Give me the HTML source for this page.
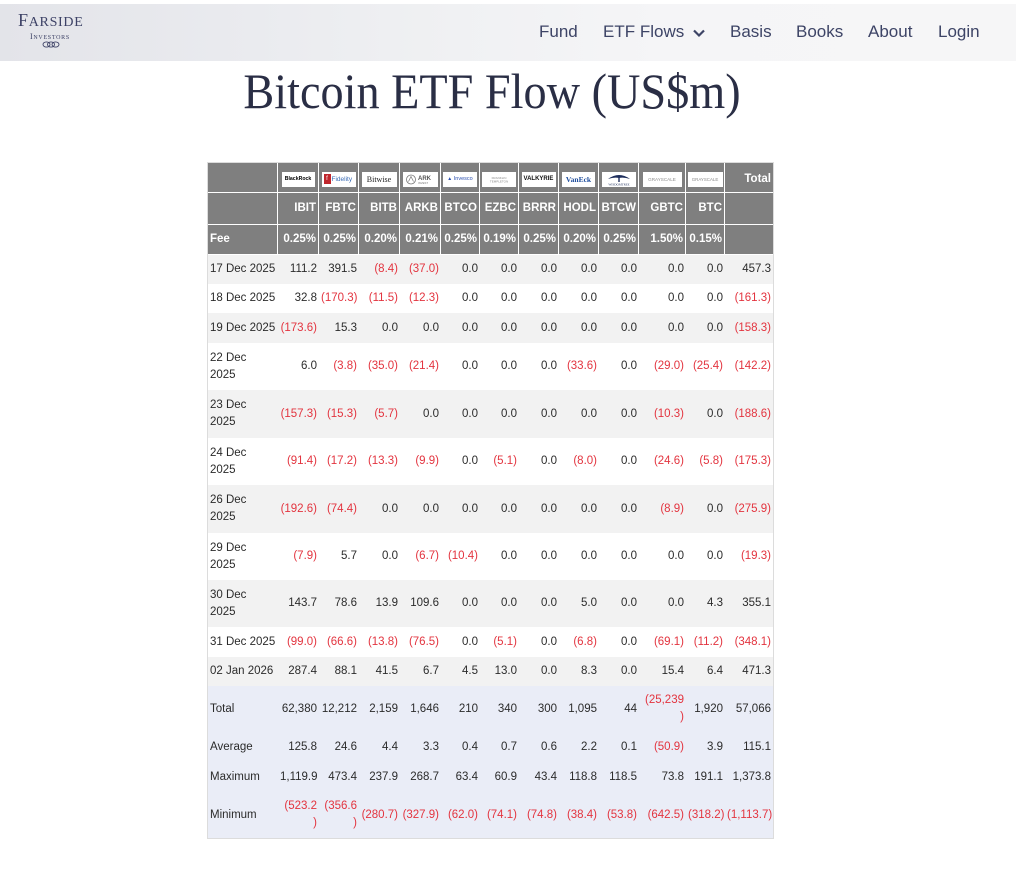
<!DOCTYPE html>
<html>
<head>
<meta charset="utf-8">
<style>
html,body{margin:0;padding:0;background:#fff;}
body{width:1016px;height:888px;position:relative;overflow:hidden;font-family:"Liberation Sans",Arial,sans-serif;}
.nav{position:absolute;left:0;top:4px;width:1016px;height:57px;
 background:linear-gradient(90deg,#e3e4e9 0%,#eaebef 25%,#f0f1f3 45%,#f5f5f7 65%,#f6f6f7 100%);}
.nl{position:absolute;top:23px;font-size:17px;line-height:17px;color:#3d4466;white-space:nowrap;}
.logo-f{position:absolute;left:18px;top:11px;font-family:"Liberation Serif",serif;color:#3d4266;white-space:nowrap;line-height:18px;letter-spacing:0.7px;}
.logo-i{position:absolute;left:30px;top:30px;font-family:"Liberation Serif",serif;color:#3d4266;white-space:nowrap;line-height:9px;letter-spacing:0.7px;}
.title{position:absolute;left:0;top:66px;width:984px;text-align:center;font-family:"Liberation Serif",serif;font-size:50px;line-height:50px;color:#2a2e45;transform:scaleX(0.925);white-space:nowrap;}
table{position:absolute;left:207px;top:162px;border-collapse:separate;border-spacing:0;table-layout:fixed;width:567px;border:1px solid #dcdcdc;font-size:11.5px;color:#2b2b2b;}
td{padding:0 2px;white-space:nowrap;text-align:right;vertical-align:middle;line-height:17px;overflow:visible;}
td.l{text-align:left;}
tr.hd td{background:#7f7f7f;color:#fff;font-weight:bold;border-right:1px solid #fff;border-bottom:1px solid #fff;}
tr.hd td:last-child{border-right:none;}
tr.hd1 td{text-align:center;padding:3px 0 0 0;}
tr.hd1 td:last-child{text-align:right;padding-right:2px;}
tr.g td{background:#f2f2f2;}
tr.w td{background:#fff;}
tr.s td{background:#eaedf7;}
.r{color:#e3343f;}
.logo{display:block;margin:0 auto;background:#fff;height:15px;overflow:hidden;line-height:15px;text-align:center;font-weight:normal;white-space:nowrap;}
</style>
</head>
<body>
<div class="nav"></div>
<div class="logo-f"><span style="font-size:18px">F</span><span style="font-size:14px">ARSIDE</span></div>
<div class="logo-i"><span style="font-size:8px">I</span><span style="font-size:6px">NVESTORS</span></div>
<svg style="position:absolute;left:42px;top:41px" width="18" height="7" viewBox="0 0 18 7">
 <ellipse cx="4.5" cy="3.5" rx="3.5" ry="2.6" fill="none" stroke="#3d4266" stroke-width="0.9"/>
 <ellipse cx="9" cy="3.5" rx="3.5" ry="2.6" fill="none" stroke="#3d4266" stroke-width="0.9"/>
 <ellipse cx="13.5" cy="3.5" rx="3.5" ry="2.6" fill="none" stroke="#3d4266" stroke-width="0.9"/>
</svg>
<div class="nl" style="left:539px">Fund</div>
<div class="nl" style="left:603px">ETF Flows</div>
<svg style="position:absolute;left:692px;top:28px" width="14" height="10" viewBox="0 0 14 10"><polyline points="2,2.5 7,7.5 12,2.5" fill="none" stroke="#3d4466" stroke-width="2.2"/></svg>
<div class="nl" style="left:730px">Basis</div>
<div class="nl" style="left:796px">Books</div>
<div class="nl" style="left:868px">About</div>
<div class="nl" style="left:938px">Login</div>
<div class="title">Bitcoin ETF Flow (US$m)</div>

<table>
<colgroup>
<col style="width:70px"><col style="width:41px"><col style="width:40px"><col style="width:41px"><col style="width:41px"><col style="width:39px"><col style="width:39px"><col style="width:40px"><col style="width:40px"><col style="width:40px"><col style="width:47px"><col style="width:39px"><col style="width:48px">
</colgroup>
<tr class="hd hd1" style="height:30px">
<td></td>
<td><span class="logo" style="width:33px;font-size:5.2px;font-weight:bold;color:#000;font-family:'Liberation Sans',sans-serif"><b>BlackRock</b></span></td>
<td><span class="logo" style="width:34px;text-align:left"><span style="display:inline-block;width:7px;height:10px;background:#c0272d;vertical-align:middle;margin:0 1px 0 2px;color:#fff;font-size:6px;line-height:10px;text-align:center">f</span><span style="font-size:6.5px;color:#3a6bb5;vertical-align:middle">Fidelity</span></span></td>
<td><span class="logo" style="width:35px;font-family:'Liberation Serif',serif;font-size:8px;color:#222">Bitwise</span></td>
<td><span class="logo" style="width:35px"><svg width="33" height="15" viewBox="0 0 33 15"><circle cx="7" cy="7.5" r="4.5" fill="none" stroke="#777" stroke-width="0.8"/><path d="M4.5 9.5 L7 4.5 L9.5 9.5" fill="none" stroke="#777" stroke-width="0.7"/><text x="14" y="8" font-family="Liberation Sans" font-size="6" font-weight="bold" fill="#555">ARK</text><text x="14" y="12" font-family="Liberation Sans" font-size="2.8" fill="#777">INVEST</text></svg></span></td>
<td><span class="logo" style="width:34px;font-size:5.5px;color:#2a4fb0"><span style="font-size:5px">&#9650;</span> Invesco</span></td>
<td><span class="logo" style="width:34px"><svg width="34" height="15" viewBox="0 0 34 15"><text x="17" y="7" text-anchor="middle" font-family="Liberation Sans" font-size="3" fill="#888">FRANKLIN</text><text x="17" y="10.5" text-anchor="middle" font-family="Liberation Sans" font-size="3" fill="#888">TEMPLETON</text></svg></span></td>
<td><span class="logo" style="width:34px;font-size:6px;font-weight:bold;color:#111">VALKYRIE</span></td>
<td><span class="logo" style="width:33px;font-family:'Liberation Serif',serif;font-size:7.5px;font-weight:bold;color:#1d4c9c">VanEck</span></td>
<td><span class="logo" style="width:34px"><svg width="34" height="15" viewBox="0 0 34 15"><path d="M6 7 Q17 -1 28 7 Q22 5 17 6 Q12 5 6 7 Z" fill="#1e2e5c"/><rect x="16.3" y="5" width="1.4" height="5" fill="#1e2e5c"/><text x="17" y="13.5" text-anchor="middle" font-family="Liberation Serif" font-size="3.2" fill="#1e2e5c">WISDOMTREE</text></svg></span></td>
<td><span class="logo" style="width:39px;font-size:4.6px;color:#8a8a8a">GRAYSCALE</span></td>
<td><span class="logo" style="width:35px;font-size:4.4px;color:#8a8a8a">GRAYSCALE</span></td>
<td>Total</td>
</tr>
<tr class="hd" style="height:32px">
<td></td><td>IBIT</td><td>FBTC</td><td>BITB</td><td>ARKB</td><td>BTCO</td><td>EZBC</td><td>BRRR</td><td>HODL</td><td>BTCW</td><td>GBTC</td><td>BTC</td><td></td>
</tr>
<tr class="hd" style="height:30px">
<td class="l">Fee</td><td>0.25%</td><td>0.25%</td><td>0.20%</td><td>0.21%</td><td>0.25%</td><td>0.19%</td><td>0.25%</td><td>0.20%</td><td>0.25%</td><td>1.50%</td><td>0.15%</td><td></td>
</tr>
<tr class="g" style="height:29px"><td class="l">17 Dec 2025</td><td>111.2</td><td>391.5</td><td class="r">(8.4)</td><td class="r">(37.0)</td><td>0.0</td><td>0.0</td><td>0.0</td><td>0.0</td><td>0.0</td><td>0.0</td><td>0.0</td><td>457.3</td></tr>
<tr class="w" style="height:29px"><td class="l">18 Dec 2025</td><td>32.8</td><td class="r">(170.3)</td><td class="r">(11.5)</td><td class="r">(12.3)</td><td>0.0</td><td>0.0</td><td>0.0</td><td>0.0</td><td>0.0</td><td>0.0</td><td>0.0</td><td class="r">(161.3)</td></tr>
<tr class="g" style="height:30px"><td class="l">19 Dec 2025</td><td class="r">(173.6)</td><td>15.3</td><td>0.0</td><td>0.0</td><td>0.0</td><td>0.0</td><td>0.0</td><td>0.0</td><td>0.0</td><td>0.0</td><td>0.0</td><td class="r">(158.3)</td></tr>
<tr class="w" style="height:47px"><td class="l">22 Dec<br>2025</td><td>6.0</td><td class="r">(3.8)</td><td class="r">(35.0)</td><td class="r">(21.4)</td><td>0.0</td><td>0.0</td><td>0.0</td><td class="r">(33.6)</td><td>0.0</td><td class="r">(29.0)</td><td class="r">(25.4)</td><td class="r">(142.2)</td></tr>
<tr class="g" style="height:48px"><td class="l">23 Dec<br>2025</td><td class="r">(157.3)</td><td class="r">(15.3)</td><td class="r">(5.7)</td><td>0.0</td><td>0.0</td><td>0.0</td><td>0.0</td><td>0.0</td><td>0.0</td><td class="r">(10.3)</td><td>0.0</td><td class="r">(188.6)</td></tr>
<tr class="w" style="height:47px"><td class="l">24 Dec<br>2025</td><td class="r">(91.4)</td><td class="r">(17.2)</td><td class="r">(13.3)</td><td class="r">(9.9)</td><td>0.0</td><td class="r">(5.1)</td><td>0.0</td><td class="r">(8.0)</td><td>0.0</td><td class="r">(24.6)</td><td class="r">(5.8)</td><td class="r">(175.3)</td></tr>
<tr class="g" style="height:48px"><td class="l">26 Dec<br>2025</td><td class="r">(192.6)</td><td class="r">(74.4)</td><td>0.0</td><td>0.0</td><td>0.0</td><td>0.0</td><td>0.0</td><td>0.0</td><td>0.0</td><td class="r">(8.9)</td><td>0.0</td><td class="r">(275.9)</td></tr>
<tr class="w" style="height:47px"><td class="l">29 Dec<br>2025</td><td class="r">(7.9)</td><td>5.7</td><td>0.0</td><td class="r">(6.7)</td><td class="r">(10.4)</td><td>0.0</td><td>0.0</td><td>0.0</td><td>0.0</td><td>0.0</td><td>0.0</td><td class="r">(19.3)</td></tr>
<tr class="g" style="height:47px"><td class="l">30 Dec<br>2025</td><td>143.7</td><td>78.6</td><td>13.9</td><td>109.6</td><td>0.0</td><td>0.0</td><td>0.0</td><td>5.0</td><td>0.0</td><td>0.0</td><td>4.3</td><td>355.1</td></tr>
<tr class="w" style="height:30px"><td class="l">31 Dec 2025</td><td class="r">(99.0)</td><td class="r">(66.6)</td><td class="r">(13.8)</td><td class="r">(76.5)</td><td>0.0</td><td class="r">(5.1)</td><td>0.0</td><td class="r">(6.8)</td><td>0.0</td><td class="r">(69.1)</td><td class="r">(11.2)</td><td class="r">(348.1)</td></tr>
<tr class="g" style="height:29px"><td class="l">02 Jan 2026</td><td>287.4</td><td>88.1</td><td>41.5</td><td>6.7</td><td>4.5</td><td>13.0</td><td>0.0</td><td>8.3</td><td>0.0</td><td>15.4</td><td>6.4</td><td>471.3</td></tr>
<tr class="s" style="height:46px"><td class="l">Total</td><td>62,380</td><td>12,212</td><td>2,159</td><td>1,646</td><td>210</td><td>340</td><td>300</td><td>1,095</td><td>44</td><td class="r">(25,239<br>)</td><td>1,920</td><td>57,066</td></tr>
<tr class="s" style="height:31px"><td class="l">Average</td><td>125.8</td><td>24.6</td><td>4.4</td><td>3.3</td><td>0.4</td><td>0.7</td><td>0.6</td><td>2.2</td><td>0.1</td><td class="r">(50.9)</td><td>3.9</td><td>115.1</td></tr>
<tr class="s" style="height:29px"><td class="l">Maximum</td><td>1,119.9</td><td>473.4</td><td>237.9</td><td>268.7</td><td>63.4</td><td>60.9</td><td>43.4</td><td>118.8</td><td>118.5</td><td>73.8</td><td>191.1</td><td>1,373.8</td></tr>
<tr class="s" style="height:46px"><td class="l">Minimum</td><td class="r">(523.2<br>)</td><td class="r">(356.6<br>)</td><td class="r">(280.7)</td><td class="r">(327.9)</td><td class="r">(62.0)</td><td class="r">(74.1)</td><td class="r">(74.8)</td><td class="r">(38.4)</td><td class="r">(53.8)</td><td class="r">(642.5)</td><td class="r">(318.2)</td><td class="r">(1,113.7)</td></tr>
</table>
</body>
</html>
